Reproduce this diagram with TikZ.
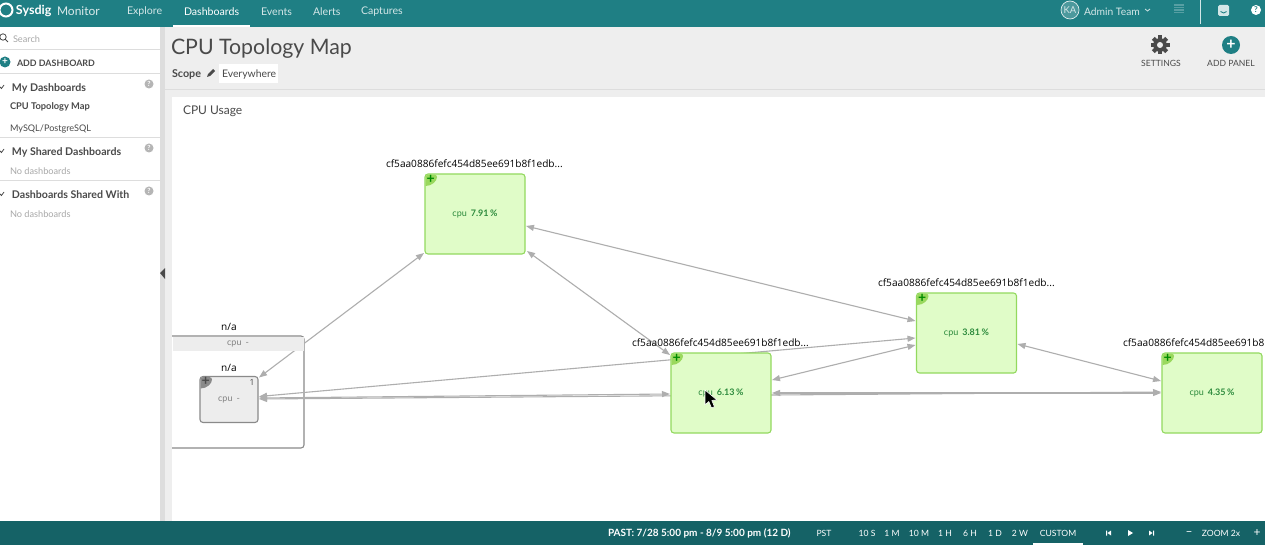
\documentclass[tikz,border=0pt]{standalone}
\usepackage{fontspec}
\setmainfont{Lato}
\newfontfamily\lblfont{Open Sans}
\usetikzlibrary{arrows.meta,calc}
\definecolor{topbar}{HTML}{1F7F84}
\definecolor{botbar}{HTML}{156266}
\definecolor{pagebg}{HTML}{EEEEEE}
\definecolor{divider}{HTML}{DDDDDD}
\definecolor{ink}{HTML}{4A4A4A}
\definecolor{faint}{HTML}{A8A8A8}
\definecolor{navtxt}{HTML}{D3E6E7}
\definecolor{edgegray}{HTML}{AEAEAE}
\definecolor{greenfill}{HTML}{E0FCC8}
\definecolor{greenline}{HTML}{93D95F}
\definecolor{greentab}{HTML}{9AD85E}
\definecolor{greentxt}{HTML}{2C8A3C}
\definecolor{greyfill}{HTML}{EDEDED}
\definecolor{greyline}{HTML}{8A8A8A}
\pgfdeclarelayer{panel}
\pgfdeclarelayer{edgelayer}
\pgfsetlayers{panel,edgelayer,main}
\tikzset{
  txt/.style={inner sep=0pt,outer sep=0pt,anchor=west,yshift=-1.3pt},
  nav/.style={txt,text=navtxt,font=\fontsize{10.6}{12}\selectfont},
  side/.style={txt,text=ink,font=\fontsize{10}{12}\selectfont},
  sideb/.style={txt,text=ink,font=\fontsize{10.6}{12}\selectfont\bfseries},
  sidef/.style={txt,text=faint,font=\fontsize{9.2}{12}\selectfont},
  bot/.style={inner sep=0pt,outer sep=0pt,text=white,font=\fontsize{8.6}{10}\selectfont},
  caption/.style={inner sep=0pt,outer sep=0pt,text=black,font=\lblfont\fontsize{10.1}{12}\selectfont},
  greenbox/.style={draw=greenline,fill=greenfill,line width=1.1pt,rounded corners=3pt,minimum width=100pt,minimum height=80pt,inner sep=0pt,outer sep=0pt,text=greentxt,font=\fontsize{9}{10}\selectfont},
  greybox/.style={draw=greyline,fill=greyfill,line width=1.1pt,rounded corners=3pt,minimum width=58pt,minimum height=46pt,inner sep=0pt,outer sep=0pt,text=ink,font=\fontsize{9}{10}\selectfont},
  link/.style={draw=edgegray,line width=1.1pt,{Triangle[length=8pt,width=6pt]}-{Triangle[length=8pt,width=6pt]}},
  qmark/.style={circle,fill=faint!85,text=white,inner sep=0pt,minimum size=9pt,font=\fontsize{7}{8}\selectfont\bfseries},
  plusdisc/.style={circle,fill=topbar,inner sep=0pt,outer sep=0pt},
  plussign/.style={inner sep=0pt,outer sep=0pt,font=\fontsize{14}{14}\selectfont\bfseries},
}
\newcommand{\cornertab}[2]{\fill[#2,rounded corners=2.5pt] ($(#1.north west)+(0.6,0.6)$) -- ($(#1.north west)+(12,0.6)$) {[sharp corners] .. controls ($(#1.north west)+(12,7)$) and ($(#1.north west)+(7,12)$) .. ($(#1.north west)+(0.6,12)$)} -- cycle;}
\newcommand{\cpuval}[1]{\raisebox{-2pt}{cpu\hspace{4pt}\textbf{#1\,\%}}}
\begin{document}
\begin{tikzpicture}[x=1pt,y=-1pt]
\useasboundingbox (0,0) rectangle (1265,545);
\begin{pgfonlayer}{panel}
\fill[pagebg] (0,0) rectangle (1265,545);
\fill[white] (0,27) rectangle (160,521);
\fill[divider] (160,27) rectangle (165,521);
\fill[white] (172,97) rectangle (1265,521);
\draw[divider,line width=1pt] (165,89.5) -- (1265,89.5);
\foreach \yy in {49.5,74,138,181}{\draw[divider,line width=1pt] (0,\yy) -- (160,\yy);}
\fill[topbar] (0,0) rectangle (1265,27);
\fill[botbar] (0,521) rectangle (1265,545);
\fill[white] (173,25) rectangle (250,27);
\fill[white] (1033,543) rectangle (1083,545);
\fill[white] (219,64) rectangle (278,83);
\draw[navtxt,line width=.8pt] (1200.5,0) -- (1200.5,24);
% outer group frame
\draw[greyline,line width=1.1pt,rounded corners=3pt] (172,336) -- (304,336) -- (304,448) -- (172,448);
\fill[ink] (160,273) -- (165,268) -- (165,279) -- cycle;
\end{pgfonlayer}

% top bar
\draw[white,line width=2pt] (6,10) circle[radius=6.5];
\node[txt,text=white,font=\fontsize{12.5}{14}\selectfont\bfseries] (brand) at (16,10) {Sysdig};
\node[txt,text=navtxt!80,font=\fontsize{12}{14}\selectfont] (brand2) at (57,10) {Monitor};
\node[nav] (n-explore) at (127,10) {Explore};
\node[nav,text=white] (n-dash) at (184,10) {Dashboards};
\node[nav] (n-events) at (261,10) {Events};
\node[nav] (n-alerts) at (313,10) {Alerts};
\node[nav] (n-capt) at (361,10) {Captures};
\node[circle,draw=navtxt!70,fill=white!20!topbar,text=navtxt,line width=.7pt,inner sep=0pt,minimum size=18pt,font=\fontsize{9.5}{10}\selectfont] (ka) at (1070,10) {KA};
\node[nav,font=\fontsize{10.3}{12}\selectfont] (n-admin) at (1084,10) {Admin Team};
\draw[navtxt,line width=.8pt] (1145,9) -- (1147.5,11) -- (1150,9);
\foreach \yy in {5,7.5,10,12.5}{\draw[white!25!topbar,line width=1.1pt] (1174,\yy) -- (1184,\yy);}
\fill[navtxt,rounded corners=1.5pt] (1218,5) rectangle (1229,16);
\draw[topbar,line width=.9pt] (1220.5,11.5) .. controls (1222,13.5) and (1225,13.5) .. (1226.5,11.5);
\node[circle,fill=white,text=topbar,inner sep=0pt,minimum size=10pt,font=\fontsize{8}{9}\selectfont\bfseries] (helpic) at (1256,10) {?};

% sidebar
\draw[ink,line width=.8pt] (3,37) circle[radius=3.2] (5.4,39.4) -- (8,42);
\node[sidef] (s-search) at (13,37.5) {Search};
\node[plusdisc,minimum size=11pt,text=white,font=\fontsize{10}{10}\selectfont\bfseries] (s-plus) at (5,62) {+};
\node[side,font=\fontsize{8.9}{10}\selectfont\bfseries] (s-add) at (17,61.5) {ADD DASHBOARD};
\foreach \yy in {87,151,194}{\draw[ink,line width=.8pt] (0,\yy) -- (1.5,\yy+1.5) -- (4,\yy-2);}
\node[sideb] (s-my) at (12,87) {My Dashboards};
\node[qmark] (q1) at (149,84) {?};
\node[side,font=\fontsize{9.3}{10}\selectfont\bfseries] (s-cpu) at (10,106) {CPU Topology Map};
\node[side,font=\fontsize{9.1}{10}\selectfont] (s-mysql) at (10,127.5) {MySQL/PostgreSQL};
\node[sideb] (s-shared) at (12,151) {My Shared Dashboards};
\node[qmark] (q2) at (149,148) {?};
\node[sidef] (s-no1) at (10,169.5) {No dashboards};
\node[sideb] (s-with) at (12,193.5) {Dashboards Shared With};
\node[qmark] (q3) at (149,191) {?};
\node[sidef] (s-no2) at (10,212.5) {No dashboards};

% header
\node[txt,text=ink,font=\fontsize{21.3}{24}\selectfont] (title) at (171,47) {CPU Topology Map};
\node[txt,text=ink,font=\fontsize{10.8}{12}\selectfont\bfseries] (scope) at (172,73.5) {Scope};
\fill[ink] (207,77) -- (208,74) -- (213,69) -- (215,71) -- (210,76) -- cycle;
\node[txt,text=ink,font=\fontsize{10.4}{12}\selectfont] (where) at (222,73.5) {Everywhere};
\node[txt,text=ink,font=\fontsize{12}{13}\selectfont] (usage) at (183,110) {CPU Usage};
\foreach \a in {0,45,...,315}{\fill[ink,rotate around={\a:(1160,45)}] (1158,35.5) rectangle (1162,40);}
\fill[ink] (1160,45) circle[radius=6.8];
\fill[pagebg] (1160,45) circle[radius=3];
\node[inner sep=0pt,text=ink,font=\fontsize{8.6}{10}\selectfont] (settings) at (1161,63.5) {SETTINGS};
\node[plusdisc,minimum size=18pt,text=white,font=\fontsize{16}{16}\selectfont\bfseries] (addp) at (1231,45) {+};
\node[inner sep=0pt,text=ink,font=\fontsize{8.6}{10}\selectfont] (addpanel) at (1231,63.5) {ADD PANEL};

% group header band and captions
\node[inner sep=0pt,outer sep=0pt,fill=greyfill,minimum width=131pt,minimum height=14pt,text=faint!60!ink,font=\fontsize{9}{10}\selectfont] (band) at (238,343.5) {\raisebox{-1pt}{cpu\hspace{4pt}-}};
\node[caption] (cap-g) at (229,326.5) {n/a};
\node[caption] (cap-s) at (229,367.5) {n/a};

% topology nodes
\node[greenbox] (n1) at (475,214) {\cpuval{7.91}};
\node[greenbox] (n2) at (966.5,333) {\cpuval{3.81}};
\node[greenbox] (n3) at (721,393) {\cpuval{6.13}};
\node[greenbox] (n4) at (1212,393) {\cpuval{4.35}};
\node[greybox,text=faint!60!ink] (sm) at (229,399.5) {\raisebox{-2pt}{cpu\hspace{4pt}-}};
\cornertab{n1}{greentab}
\cornertab{n2}{greentab}
\cornertab{n3}{greentab}
\cornertab{n4}{greentab}
\cornertab{sm}{greyline}
\node[plussign,text=black!45!green] (p1) at ($(n1.north west)+(5.7,5)$) {+};
\node[plussign,text=black!45!green] (p2) at ($(n2.north west)+(5.7,5)$) {+};
\node[plussign,text=black!45!green] (p3) at ($(n3.north west)+(5.7,5)$) {+};
\node[plussign,text=black!45!green] (p4) at ($(n4.north west)+(5.7,5)$) {+};
\node[plussign,text=ink] (p5) at ($(sm.north west)+(5.7,5)$) {+};
\node[inner sep=0pt,text=ink,font=\lblfont\fontsize{8.5}{9}\selectfont] (one) at ($(sm.north east)+(-6,6)$) {1};
\node[caption,anchor=west] (cap1) at (386,164) {cf5aa0886fefc454d85ee691b8f1edb...};
\node[caption,anchor=west] (cap2) at (878,283) {cf5aa0886fefc454d85ee691b8f1edb...};
\node[caption,anchor=west] (cap3) at (632,343) {cf5aa0886fefc454d85ee691b8f1edb...};
\node[caption,anchor=west] (cap4) at (1123,343) {cf5aa0886fefc454d85ee691b8};

% connectors
\begin{pgfonlayer}{edgelayer}
\draw[link] ($(n1.south west)+(-1,-1)$) -- ($(sm.north east)+(1,1)$);
\draw[link] ($(n1.east)+(1,12)$) -- ($(n2.west)+(-1,-12)$);
\draw[link] ($(n1.south east)+(2,-3)$) -- ($(n3.north west)+(-1,2)$);
\draw[link] ($(sm.east)+(1,-3)$) -- ($(n2.west)+(-1,5)$);
\draw[link] ($(n3.east)+(1,-13)$) -- ($(n2.west)+(-1,12)$);
\draw[link] ($(n2.east)+(1,11)$) -- ($(n4.west)+(-1,-12)$);
\draw[link] ($(sm.east)+(1,-1.5)$) -- ($(n3.west)+(-1,1)$);
\draw[link] ($(sm.east)+(1,-0.5)$) -- ($(n4.west)+(-1,-1)$);
\draw[link] ($(n3.east)+(1,0)$) -- ($(n4.west)+(-1,0)$);
\end{pgfonlayer}

% cursor
\draw[white,line width=.6pt,fill=black,line join=round] (705,390) -- (705,405) -- (708.8,401.5) -- (711.5,408) -- (714.5,406.8) -- (711.8,400.4) -- (717,400) -- cycle;

% bottom bar
\node[bot,anchor=west,font=\fontsize{10}{12}\selectfont\bfseries] (b-past) at (608,533) {PAST: 7/28 5:00 pm - 8/9 5:00 pm (12 D)};
\node[bot] (b-pst) at (824,533) {PST};
\node[bot] (b1) at (867,533) {10 S};
\node[bot] (b2) at (892,533) {1 M};
\node[bot] (b3) at (919,533) {10 M};
\node[bot] (b4) at (945,533) {1 H};
\node[bot] (b5) at (970,533) {6 H};
\node[bot] (b6) at (995,533) {1 D};
\node[bot] (b7) at (1020,533) {2 W};
\node[bot] (b8) at (1058,533) {CUSTOM};
\fill[white] (1106,530.5) rectangle (1107,535.5) (1111,530.5) -- (1107.5,533) -- (1111,535.5) -- cycle;
\fill[white] (1128,530) -- (1133,533) -- (1128,536) -- cycle;
\fill[white] (1149,530.5) -- (1152.5,533) -- (1149,535.5) -- cycle (1153,530.5) rectangle (1154,535.5);
\node[bot,font=\fontsize{12}{12}\selectfont] (b-minus) at (1189,533.5) {–};
\node[bot] (b-zoom) at (1221,533) {ZOOM 2x};
\node[bot,font=\fontsize{12}{12}\selectfont] (b-plus) at (1257,533) {+};
\end{tikzpicture}
\end{document}
